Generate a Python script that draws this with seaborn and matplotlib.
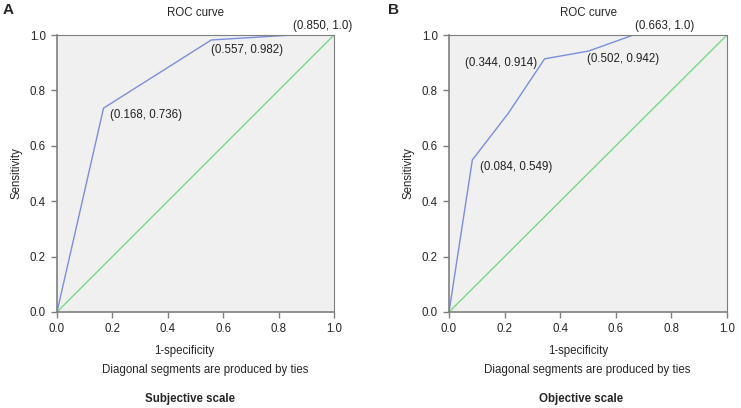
import pandas as pd
import seaborn as sns
import matplotlib.pyplot as plt

# ROC points
subj_fpr = [0.0, 0.168, 0.557, 0.850, 1.0]
subj_tpr = [0.0, 0.736, 0.982, 1.0, 1.0]
obj_fpr = [0.0, 0.084, 0.213, 0.344, 0.502, 0.663, 1.0]
obj_tpr = [0.0, 0.549, 0.717, 0.914, 0.942, 1.0, 1.0]
ref_line = [0.0, 1.0]

subj_labels = ["(0.168, 0.736)", "(0.557, 0.982)", "(0.850, 1.0)"]
subj_label_pts = [(0.168, 0.736), (0.557, 0.982), (0.850, 1.0)]
obj_labels = ["(0.084, 0.549)", "(0.344, 0.914)", "(0.502, 0.942)", "(0.663, 1.0)"]
obj_label_pts = [(0.084, 0.549), (0.344, 0.914), (0.502, 0.942), (0.663, 1.0)]

ticks = [0.0, 0.2, 0.4, 0.6, 0.8, 1.0]
tick_labels = ["0.0", "0.2", "0.4", "0.6", "0.8", "1.0"]

sns.set_style("ticks")
plt.rcParams["font.family"] = ["Liberation Sans", "DejaVu Sans"]
FS = 8.3
plt.rcParams["font.size"] = FS

BLUE = "#7a8edc"
GREEN = "#79d888"
GREY = "#7f7f7f"

fig = plt.figure(figsize=(7.41, 4.08), dpi=100)
ax1 = fig.add_axes([57 / 741, 1 - 312 / 408, 277 / 741, 277 / 408])
ax2 = fig.add_axes([449 / 741, 1 - 312 / 408, 278 / 741, 277 / 408])


def draw_panel(ax, fpr, tpr, labels, pts, offsets):
    ax.set_facecolor("#f0f0f0")
    roc = pd.DataFrame({"fpr": fpr, "tpr": tpr})
    diag = pd.DataFrame({"fpr": ref_line, "tpr": ref_line})
    sns.lineplot(data=diag, x="fpr", y="tpr", ax=ax, color=GREEN, lw=1, sort=False)
    sns.lineplot(data=roc, x="fpr", y="tpr", ax=ax, color=BLUE, lw=1, sort=False)
    ax.set_xlim(0, 1)
    ax.set_ylim(0, 1)
    ax.set_xticks(ticks)
    ax.set_xticklabels(tick_labels)
    ax.set_yticks(ticks)
    ax.set_yticklabels(tick_labels)
    ax.tick_params(labelsize=FS, color=GREY, length=4, width=1, pad=4)
    for s in ax.spines.values():
        s.set_color(GREY)
        s.set_linewidth(0.8)
    ax.spines["left"].set_linewidth(1.2)
    ax.spines["bottom"].set_linewidth(1.2)
    ax.set_xlabel("")
    ax.set_ylabel("Sensitivity", fontsize=FS, labelpad=5)
    ax.set_title("ROC curve", fontsize=FS, pad=14)
    for lab, p, (dx, dy, ha, va) in zip(labels, pts, offsets):
        ax.annotate(lab, xy=p, xytext=(dx, dy), textcoords="offset pixels",
                    ha=ha, va=va, fontsize=FS, color="#222222", annotation_clip=False)


draw_panel(ax1, subj_fpr, subj_tpr, subj_labels, subj_label_pts,
           [(6, -1, "left", "top"), (0, -4, "left", "top"), (1, 3, "left", "bottom")])
draw_panel(ax2, obj_fpr, obj_tpr, obj_labels, obj_label_pts,
           [(8, -7, "left", "center"), (-8, -4, "right", "center"),
            (-2, -2, "left", "top"), (2, 3, "left", "bottom")])

# text below each panel
for cx_label, cx_diag, cx_name, name in [(184, 205, 190, "Subjective scale"),
                                          (578, 587, 581, "Objective scale")]:
    fig.text(cx_label / 741, 1 - 351 / 408, "1-specificity", ha="center", va="center", fontsize=FS)
    fig.text(cx_diag / 741, 1 - 370 / 408, "Diagonal segments are produced by ties",
             ha="center", va="center", fontsize=FS)
    fig.text(cx_name / 741, 1 - 399 / 408, name, ha="center", va="center",
             fontsize=FS, fontweight="bold")

fig.text(3 / 741, 1 - 10 / 408, "A", ha="left", va="center", fontsize=11, fontweight="bold")
fig.text(388 / 741, 1 - 10 / 408, "B", ha="left", va="center", fontsize=11, fontweight="bold")

fig.savefig("out.png", dpi=100)
